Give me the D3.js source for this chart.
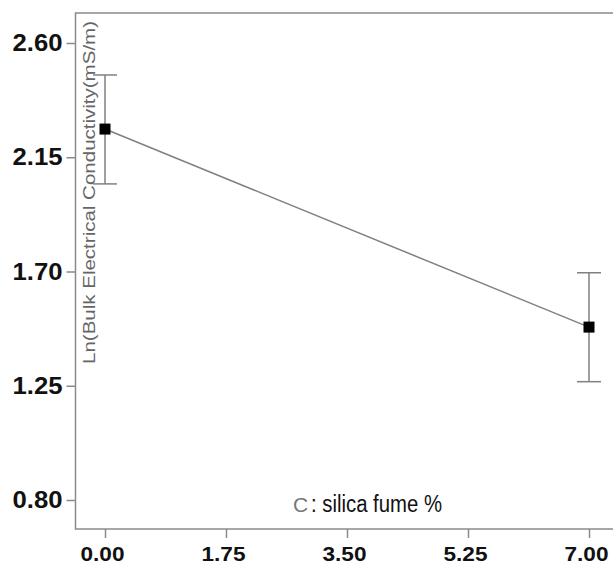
<!DOCTYPE html>
<html><head><meta charset="utf-8">
<script src="https://cdn.jsdelivr.net/npm/d3@7"></script>
<style>body{margin:0;background:#fff}svg{display:block}</style>
</head><body>
<script>
const xValues = [0, 7];
const means = [2.261, 1.481];
const upper = [2.474, 1.695];
const lower = [2.045, 1.266];
const xTicks = [0, 1.75, 3.5, 5.25, 7];
const yTicks = [0.80, 1.25, 1.70, 2.15, 2.60];
const xTitleParts = ["C", ": silica fume %"];
const yTitle = "Ln(Bulk Electrical Conductivity(mS/m)";

(function () {
const W = 613, H = 566;
const svg = d3.select("body").append("svg").attr("width", W).attr("height", H);
const plotLeft = 75.5, plotTop = 13, plotBottom = 529;
const x = d3.scaleLinear().domain([0, 7]).range([105, 589]);
const y = d3.scaleLinear().domain([0.80, 2.60]).range([500, 43]);

// frame
svg.append("path").attr("d", `M${W+5},${plotTop}H${plotLeft}V${plotBottom}H${W+5}`)
  .attr("fill", "none").attr("stroke", "#8a8a8a").attr("stroke-width", 1.5);

const yAxis = svg.append("g").attr("transform", `translate(${plotLeft},0)`)
  .call(d3.axisLeft(y).tickValues(yTicks).tickFormat(d3.format(".2f")).tickSize(9).tickPadding(4));
yAxis.select(".domain").remove();
yAxis.selectAll("line").attr("stroke", "#8a8a8a").attr("stroke-width", 1.5);
yAxis.selectAll("text").attr("font-family", "Liberation Sans, Arial, sans-serif")
  .attr("font-size", 24).attr("font-weight", "bold").attr("fill", "#111")
  .attr("textLength", 50).attr("lengthAdjust", "spacingAndGlyphs");

const xAxis = svg.append("g").attr("transform", `translate(0,${plotBottom})`)
  .call(d3.axisBottom(x).tickValues(xTicks).tickFormat(d3.format(".2f")).tickSize(9).tickPadding(8));
xAxis.select(".domain").remove();
xAxis.selectAll("line").attr("stroke", "#8a8a8a").attr("stroke-width", 1.5);
xAxis.selectAll("text").attr("font-family", "Liberation Sans, Arial, sans-serif")
  .attr("font-size", 21).attr("font-weight", "bold").attr("fill", "#111")
  .attr("dx", -3).attr("textLength", 44).attr("lengthAdjust", "spacingAndGlyphs");

// y title
svg.append("text").attr("transform", `translate(95,${(21+364)/2}) rotate(-90)`)
  .attr("text-anchor", "middle").attr("font-family", "Liberation Sans, Arial, sans-serif")
  .attr("font-size", 17).attr("fill", "#666").attr("textLength", 343).attr("lengthAdjust", "spacingAndGlyphs")
  .text(yTitle);

// x title (two parts, different colours)
svg.append("text").attr("x", 293).attr("y", 512)
  .attr("font-family", "Liberation Sans, Arial, sans-serif").attr("font-size", 21)
  .attr("fill", "#777")
  .text(xTitleParts[0]);
svg.append("text").attr("x", 311).attr("y", 512)
  .attr("font-family", "Liberation Sans, Arial, sans-serif").attr("font-size", 23)
  .attr("fill", "#111").attr("textLength", 131).attr("lengthAdjust", "spacingAndGlyphs")
  .text(xTitleParts[1]);

// line
const data = xValues.map((v, i) => ({x: v, m: means[i], u: upper[i], l: lower[i]}));
svg.append("path").datum(data)
  .attr("d", d3.line().x(d => x(d.x)).y(d => y(d.m)))
  .attr("fill", "none").attr("stroke", "#808080").attr("stroke-width", 1.5);

const eb = svg.append("g").selectAll("g").data(data).join("g");
eb.append("line").attr("x1", d => x(d.x)).attr("x2", d => x(d.x))
  .attr("y1", d => y(d.u)).attr("y2", d => y(d.l)).attr("stroke", "#808080").attr("stroke-width", 1.5);
eb.append("line").attr("x1", d => x(d.x) - 12).attr("x2", d => x(d.x) + 12)
  .attr("y1", d => y(d.u)).attr("y2", d => y(d.u)).attr("stroke", "#808080").attr("stroke-width", 1.5);
eb.append("line").attr("x1", d => x(d.x) - 12).attr("x2", d => x(d.x) + 12)
  .attr("y1", d => y(d.l)).attr("y2", d => y(d.l)).attr("stroke", "#808080").attr("stroke-width", 1.5);
eb.append("rect").attr("x", d => x(d.x) - 5.5).attr("y", d => y(d.m) - 5.5)
  .attr("width", 11).attr("height", 11).attr("fill", "#000");
})();
</script>
</body></html>
